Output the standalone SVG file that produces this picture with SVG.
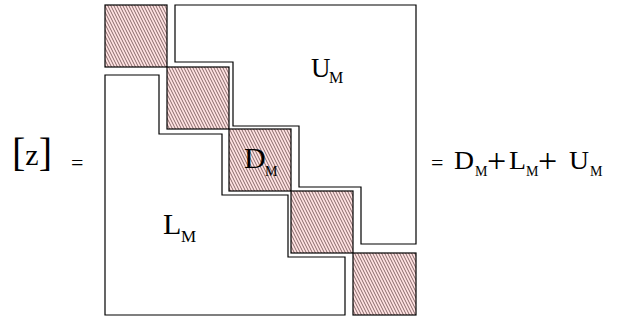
<svg xmlns="http://www.w3.org/2000/svg" width="627" height="322" viewBox="0 0 627 322">
<style>
.region{fill:#ffffff;stroke:#000000;stroke-width:1.2;}
.blk{fill:url(#hatch);stroke:#000000;stroke-width:1.2;}
.t{font-family:"Liberation Serif","Times New Roman",serif;fill:#000000;}
</style>
<defs>
<pattern id="hatch" patternUnits="userSpaceOnUse" width="3" height="6">
<rect width="3" height="6" fill="#ffe2e2"/>
<path d="M-1,-2 L4,8 M-4,-2 L1,8 M2,-2 L7,8" stroke="#5e4242" stroke-width="0.75" fill="none"/>
</pattern>
</defs>
<rect width="627" height="322" fill="#ffffff"/>
<g id="U_region">
<polygon class="region" points="175,5 416,5 416,244 361,244 361,187 299,187 299,126 233,126 233,62 175,62"/>
<text class="t" x="311" y="77" font-size="27">U</text>
<text class="t" x="329" y="83" font-size="16">M</text>
</g>
<g id="L_region">
<polygon class="region" points="105,75 159,75 159,134 222,134 222,195 288,195 288,257 345,257 345,315 105,315"/>
<text class="t" x="163" y="234" font-size="30">L</text>
<text class="t" x="181" y="242" font-size="17">M</text>
</g>
<g id="D_blocks">
<rect class="blk" x="105" y="5" width="62" height="62"/>
<rect class="blk" x="167" y="67" width="62" height="62"/>
<rect class="blk" x="229" y="129" width="62" height="62"/>
<rect class="blk" x="291" y="191" width="62" height="62"/>
<rect class="blk" x="353" y="253" width="63" height="62"/>
<text class="t" x="244" y="168" font-size="30">D</text>
<text class="t" x="265" y="176" font-size="14">M</text>
</g>
<g id="lhs">
<text class="t" x="12" y="166"><tspan font-size="40">[</tspan><tspan font-size="30" dy="-1">z</tspan><tspan font-size="40" dy="1">]</tspan></text>
<text class="t" x="71" y="170" font-size="22">=</text>
</g>
<g id="rhs">
<text class="t" x="431" y="170" font-size="22">=</text>
<text class="t" x="454" y="169" font-size="25" textLength="20" lengthAdjust="spacingAndGlyphs">D</text>
<text class="t" x="475" y="176" font-size="14">M</text>
<text class="t" x="487" y="172" font-size="34">+</text>
<text class="t" x="509" y="169" font-size="25" textLength="17" lengthAdjust="spacingAndGlyphs">L</text>
<text class="t" x="526" y="176" font-size="14">M</text>
<text class="t" x="538" y="172" font-size="34">+</text>
<text class="t" x="569" y="169" font-size="25" textLength="20" lengthAdjust="spacingAndGlyphs">U</text>
<text class="t" x="590" y="176" font-size="14">M</text>
</g>
</svg>
